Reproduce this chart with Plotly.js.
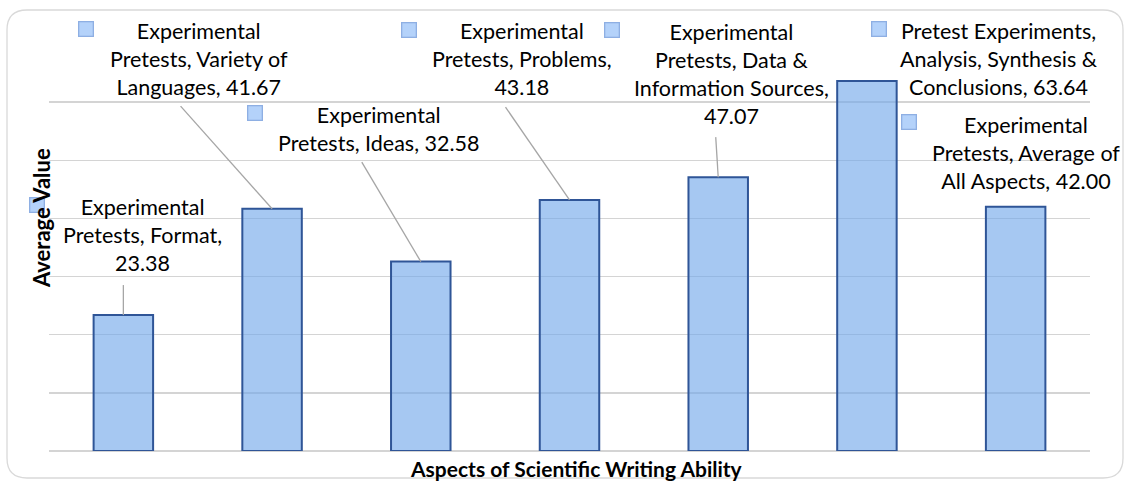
<!DOCTYPE html>
<html>
<head>
<meta charset="utf-8">
<script src="https://cdn.plot.ly/plotly-3.0.1.min.js"></script>
<style>
  html, body { margin: 0; padding: 0; background: #ffffff; }
  #chart { width: 1127px; height: 481px; }
</style>
</head>
<body>
<div id="chart"></div>
<script>
// Average pretest scores per aspect of scientific writing ability
const categories = [
  "Format",
  "Variety of Languages",
  "Ideas",
  "Problems",
  "Data & Information Sources",
  "Analysis, Synthesis & Conclusions",
  "Average of All Aspects"
];
const seriesNames = [
  "Experimental Pretests",
  "Experimental Pretests",
  "Experimental Pretests",
  "Experimental Pretests",
  "Experimental Pretests",
  "Pretest Experiments",
  "Experimental Pretests"
];
const values = [23.38, 41.67, 32.58, 43.18, 47.07, 63.64, 42.00];

// How many words go on each line of a data label
const lineWordCounts = [
  [1, 2, 1],
  [1, 3, 2],
  [1, 3],
  [1, 2, 1],
  [1, 3, 2, 1],
  [2, 3, 2],
  [1, 3, 3]
];

// Label centre offset from the bar top, in pixels (x right, y up)
const labelOffsets = [
  [19, 80], [-73.5, 149.6], [-42, 132.5], [-47.5, 140.8],
  [13.5, 103.7], [132, 21.8], [10, 53.7]
];
// Leader line end, relative to the bar top, in pixels (null = no leader)
const leaderEnds = [
  [0, 30], [-91.5, 102.6], [-59, 99.5], [-64, 92.8], [-2.5, 40.2], null, null
];
// Legend key centre, relative to the bar top, in pixels
const keyOffsets = [
  [-86.5, 110], [-186.5, 179.6], [-166, 148.5], [-160.5, 169.8],
  [-106.5, 147.2], [12, 51.8], [-107, 84.7]
];

const FONT = "Lato, 'Open Sans', sans-serif";
const W = 1127, H = 481;
const M = { l: 49, r: 37, t: 44, b: 30, pad: 0, autoexpand: false };
const plotW = W - M.l - M.r, plotH = H - M.t - M.b;

function wrapLabel(i) {
  const words = `${seriesNames[i]}, ${categories[i]}, ${values[i].toFixed(2)}`.split(" ");
  const lines = [];
  let k = 0;
  for (const n of lineWordCounts[i]) {
    lines.push(words.slice(k, k + n).join(" "));
    k += n;
  }
  return lines.join("<br>");
}

const trace = {
  type: "bar",
  x: categories,
  y: values,
  marker: {
    color: "rgba(112,166,234,0.62)",
    line: { color: "#2f5597", width: 2 }
  },
  hoverinfo: "x+y",
  showlegend: false
};

const annotations = [];
const shapes = [];

categories.forEach((cat, i) => {
  // data label text
  annotations.push({
    x: cat, y: values[i], xref: "x", yref: "y",
    xshift: labelOffsets[i][0], yshift: labelOffsets[i][1],
    text: wrapLabel(i), showarrow: false,
    xanchor: "center", yanchor: "middle", align: "center",
    font: { family: FONT, size: 21.5, color: "#000000" }
  });

  // small legend key beside the label (annotations are not clipped to the plot area)
  annotations.push({
    x: cat, y: values[i], xref: "x", yref: "y",
    xshift: keyOffsets[i][0], yshift: keyOffsets[i][1],
    text: " ", showarrow: false,
    xanchor: "center", yanchor: "middle",
    width: 13, height: 13, borderpad: 0,
    bgcolor: "#b4d2fa", bordercolor: "#8eafe3", borderwidth: 1.3,
    font: { family: FONT, size: 8 }
  });

  if (leaderEnds[i]) {
    shapes.push({
      type: "line", xref: "x", yref: "y",
      xsizemode: "pixel", ysizemode: "pixel",
      xanchor: cat, yanchor: values[i],
      x0: 0, y0: 0, x1: leaderEnds[i][0], y1: leaderEnds[i][1],
      line: { color: "#a6a6a6", width: 1.3 },
      layer: "above"
    });
  }
});

// Rounded outer frame, given in pixels and converted to paper units
function px(x) { return ((x - M.l) / plotW).toFixed(5); }
function py(y) { return ((H - M.b - y) / plotH).toFixed(5); }
const fx0 = 7, fy0 = 10, fx1 = 1123, fy1 = 478, rad = 20;
shapes.push({
  type: "path", xref: "paper", yref: "paper", layer: "below",
  path: `M ${px(fx0 + rad)},${py(fy0)} L ${px(fx1 - rad)},${py(fy0)} ` +
        `Q ${px(fx1)},${py(fy0)} ${px(fx1)},${py(fy0 + rad)} ` +
        `L ${px(fx1)},${py(fy1 - rad)} Q ${px(fx1)},${py(fy1)} ${px(fx1 - rad)},${py(fy1)} ` +
        `L ${px(fx0 + rad)},${py(fy1)} Q ${px(fx0)},${py(fy1)} ${px(fx0)},${py(fy1 - rad)} ` +
        `L ${px(fx0)},${py(fy0 + rad)} Q ${px(fx0)},${py(fy0)} ${px(fx0 + rad)},${py(fy0)} Z`,
  line: { color: "#d9d9d9", width: 1.3 },
  fillcolor: "rgba(0,0,0,0)"
});

// Axis titles
annotations.push({
  xref: "paper", yref: "paper",
  x: px(577), y: py(468),
  text: "<b>Aspects of Scientific Writing Ability</b>",
  showarrow: false, xanchor: "center", yanchor: "middle",
  font: { family: FONT, size: 21, color: "#000000" }
});
annotations.push({
  xref: "paper", yref: "paper",
  x: px(41), y: py(218),
  text: "<b>Average Value</b>", textangle: -90,
  showarrow: false, xanchor: "center", yanchor: "middle",
  font: { family: FONT, size: 22, color: "#000000" }
});

const layout = {
  width: W, height: H,
  margin: M,
  paper_bgcolor: "#ffffff",
  plot_bgcolor: "#ffffff",
  bargap: 0.6,
  font: { family: FONT, color: "#000000" },
  xaxis: {
    type: "category",
    range: [-0.5, categories.length - 0.5], autorange: false,
    showticklabels: false, ticks: "",
    showgrid: false, showline: false, zeroline: false
  },
  yaxis: {
    range: [0, 70], autorange: false, dtick: 10,
    showticklabels: false, ticks: "",
    showgrid: true, gridcolor: "#d4d4d4", gridwidth: 1.5,
    zeroline: true, zerolinecolor: "#d4d4d4", zerolinewidth: 1.5,
    showline: false
  },
  annotations: annotations,
  shapes: shapes
};

Plotly.newPlot("chart", [trace], layout, { displayModeBar: false, staticPlot: true });
</script>
</body>
</html>
